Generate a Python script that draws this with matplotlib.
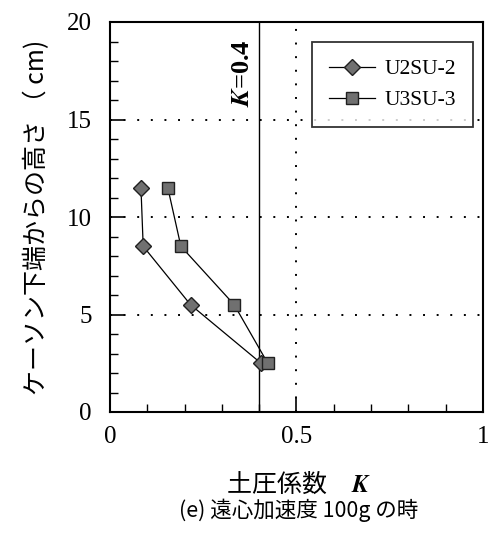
import matplotlib
matplotlib.use("Agg")
import matplotlib.pyplot as plt
from matplotlib.ticker import MultipleLocator

plt.rcParams['font.family'] = ['Liberation Serif', 'Noto Sans CJK JP']
plt.rcParams['mathtext.fontset'] = 'stix'

# Data
u2_k = [0.083, 0.089, 0.216, 0.405]
u2_h = [11.5, 8.5, 5.5, 2.5]
u3_k = [0.155, 0.190, 0.333, 0.423]
u3_h = [11.5, 8.5, 5.5, 2.5]
series_names = ['U2SU-2', 'U3SU-3']
x_ticks = [0, 0.5, 1]
x_ticklabels = ['0', '0.5', '1']
y_ticks = [0, 5, 10, 15, 20]
k_line = 0.4

fig = plt.figure(figsize=(4.89, 5.35), dpi=100)
ax = fig.add_axes([110/489, 1-412/535, (483-110)/489, (412-22)/535])

ax.set_xlim(0, 1)
ax.set_ylim(0, 20)

for yv in [5, 10, 15]:
    ax.axhline(yv, color='black', lw=1.4, ls=(0, (1, 6)), zorder=1)
ax.axvline(0.5, color='black', lw=1.4, ls=(0, (1, 6)), zorder=1)
ax.axvline(k_line, color='black', lw=1.0, zorder=1)

ax.plot(u2_k, u2_h, color='black', lw=0.9, marker='D', markersize=8.5,
        markerfacecolor='#707070', markeredgecolor='#202020', markeredgewidth=1.0,
        label=series_names[0], zorder=3)
ax.plot(u3_k, u3_h, color='black', lw=0.9, marker='s', markersize=9,
        markerfacecolor='#707070', markeredgecolor='#202020', markeredgewidth=1.0,
        label=series_names[1], zorder=3)

ax.text(0.355, 19.1, r'$\mathbfit{K}$=0.4', rotation=90, ha='center', va='top',
        fontsize=19, fontweight='bold', family='Liberation Serif')

ax.set_xticks(x_ticks)
ax.set_xticklabels(x_ticklabels)
ax.set_yticks(y_ticks)
ax.xaxis.set_minor_locator(MultipleLocator(0.1))
ax.yaxis.set_minor_locator(MultipleLocator(1))
ax.tick_params(which='major', direction='in', length=10, width=1.2, labelsize=18, pad=10)
ax.tick_params(which='minor', direction='in', length=6, width=1.0)
ax.tick_params(axis='y', which='major', pad=13)
for s in ax.spines.values():
    s.set_linewidth(1.5)

leg = ax.legend(loc='upper right', bbox_to_anchor=((473-110)/373, (412-42)/390),
                borderaxespad=0, frameon=True,
                fancybox=False, edgecolor='black', fontsize=15.5, handlelength=2.1,
                borderpad=0.8, labelspacing=0.5, handletextpad=0.45)
leg.get_frame().set_linewidth(1.3)

ax.set_ylabel('ケーソン下端からの高さ （ cm)', fontsize=18,
              family=['Noto Sans CJK JP', 'Liberation Serif'], labelpad=12)
fig.text(298/489, 1-485/535, r'土圧係数　$\mathbfit{K}$', ha='center', va='center',
         fontsize=18, family=['Noto Sans CJK JP', 'Liberation Serif'])
fig.text(299/489, 1-510/535, '(e) 遠心加速度 100g の時', ha='center', va='center',
         fontsize=15.5, family=['Noto Sans CJK JP', 'Liberation Serif'])

fig.savefig('out.png', dpi=100)
